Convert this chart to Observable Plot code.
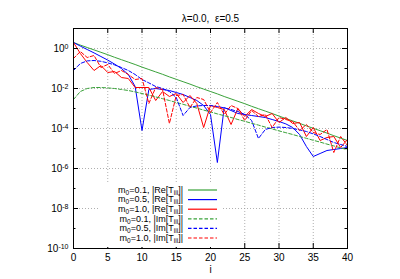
<!DOCTYPE html>
<html><head><meta charset="utf-8">
<script src="https://cdn.jsdelivr.net/npm/d3@7"></script>
<script src="https://cdn.jsdelivr.net/npm/@observablehq/plot@0.6"></script>
<style>
body{margin:0;background:#fff;}
svg{font-family:"Liberation Sans",Arial,Helvetica,sans-serif;}
</style>
</head><body><div id="chart"></div>
<script>
// ---- data (log10 of |T|) ----
const sites = [0,1,2,3,4,5,6,7,8,9,10,11,12,13,14,15,16,17,18,19,20,21,22,23,24,25,26,27,28,29,30,31,32,33,34,35,36,37,38,39,40];
const greenReLog = [0.30,0.17,0.05,-0.07,-0.19,-0.31,-0.44,-0.56,-0.68,-0.80,-0.93,-1.05,-1.17,-1.29,-1.42,-1.54,-1.66,-1.78,-1.91,-2.03,-2.15,-2.27,-2.40,-2.52,-2.64,-2.76,-2.89,-3.01,-3.13,-3.25,-3.38,-3.50,-3.62,-3.74,-3.87,-3.99,-4.11,-4.23,-4.36,-4.48,-4.60];
const blueReLog = [0.30,0.12,-0.05,-0.22,-0.40,-0.58,-0.78,-1.00,-1.30,-1.90,-4.10,-2.05,-2.00,-2.05,-2.10,-2.20,-2.30,-2.45,-2.60,-2.85,-3.30,-5.70,-2.95,-3.10,-3.25,-3.30,-3.35,-3.40,-3.45,-3.55,-3.65,-3.77,-3.95,-4.30,-4.90,-5.40,-5.25,-5.10,-5.05,-5.00,-4.95];
const redReLog = [0.30,-0.25,-0.70,-1.10,-0.85,-1.20,-1.15,-1.45,-1.50,-1.95,-1.95,-1.95,-2.60,-2.15,-2.40,-2.25,-2.70,-2.35,-2.75,-3.95,-2.85,-2.95,-3.05,-3.80,-3.00,-3.40,-3.05,-3.25,-3.40,-3.25,-3.70,-3.45,-3.75,-3.70,-4.40,-3.95,-4.60,-4.45,-4.40,-4.95,-4.55];
const greenImLog = [-2.55,-2.15,-2.00,-1.95,-1.95,-1.97,-2.00,-2.05,-2.10,-2.17,-2.25,-2.33,-2.42,-2.51,-2.60,-2.70,-2.79,-2.89,-2.98,-3.08,-3.17,-3.27,-3.36,-3.45,-3.55,-3.64,-3.74,-3.83,-3.93,-4.02,-4.12,-4.21,-4.30,-4.40,-4.49,-4.59,-4.68,-4.78,-4.87,-4.97,-5.06];
const blueImLog = [-1.10,-0.75,-0.62,-0.60,-0.64,-0.72,-0.82,-0.95,-1.10,-1.30,-1.55,-1.72,-1.90,-2.00,-2.15,-2.45,-3.35,-2.95,-2.87,-2.85,-2.85,-2.90,-2.97,-3.05,-3.15,-3.30,-3.60,-4.50,-4.05,-3.95,-3.93,-3.95,-4.00,-4.07,-4.15,-4.27,-4.40,-4.55,-4.70,-4.80,-4.90];
const redImLog = [-0.50,-0.15,-0.45,-0.35,-0.95,-0.80,-1.25,-1.10,-1.30,-1.55,-1.50,-2.75,-1.95,-2.05,-3.75,-2.35,-2.30,-2.95,-2.45,-2.55,-3.20,-2.70,-3.30,-2.85,-3.00,-3.60,-3.10,-3.40,-3.30,-3.95,-3.45,-3.55,-3.65,-4.10,-3.80,-4.20,-4.30,-4.05,-5.20,-4.40,-4.85];

const m0Labels = ["0.1","0.5","1.0","0.1","0.5","1.0"];
const partLabels = ["Re","Re","Re","Im","Im","Im"];
const xTicks = [0,5,10,15,20,25,30,35,40];
const xGrid = [5,10,15,20,25,30,35];
const yMajor = [1e0,1e-2,1e-4,1e-6,1e-8,1e-10];
const yMinor = [1e1,1e-1,1e-3,1e-5,1e-7,1e-9];
const yGrid = [1e0,1e-2,1e-4,1e-6,1e-8];
const titleText = "λ=0.0,  ε=0.5";
const xLabel = "i";

// ---- styles ----
const GREEN = "#3aa23a", BLUE = "#0000ff", RED = "#ff0000";
const DASH = "3.5,2";
const seriesDefs = [
  {logs: greenReLog, color: GREEN, dash: null},
  {logs: blueReLog,  color: BLUE,  dash: null},
  {logs: redReLog,   color: RED,   dash: null},
  {logs: greenImLog, color: GREEN, dash: DASH},
  {logs: blueImLog,  color: BLUE,  dash: DASH},
  {logs: redImLog,   color: RED,   dash: DASH}
];
const tables = seriesDefs.map((s, k) => sites.map((i, j) => ({i, v: Math.pow(10, s.logs[j]), k})));

const W = 400, H = 279;
const mL = 73, mR = 53, mT = 28, mB = 31;
const fW = W - mL - mR, fH = H - mT - mB;
const gridStyle = {stroke: "#9a9a9a", strokeOpacity: 1, strokeWidth: 0.8, strokeDasharray: "1,2"};

const marks = [
  Plot.gridX(xGrid, gridStyle),
  Plot.gridY(yGrid, gridStyle),
  ...seriesDefs.map((s, k) => Plot.line(tables[k], {x: "i", y: "v", stroke: s.color, strokeWidth: 1, strokeDasharray: s.dash})),
  Plot.frame({stroke: "#000", strokeWidth: 1}),
  // inward ticks
  Plot.tickX(xTicks, {x: d => d, insetTop: fH - 5, stroke: "#000"}),
  Plot.tickX(xTicks, {x: d => d, insetBottom: fH - 5, stroke: "#000"}),
  Plot.tickY(yMajor, {y: d => d, insetRight: fW - 5, stroke: "#000"}),
  Plot.tickY(yMajor, {y: d => d, insetLeft: fW - 5, stroke: "#000"}),
  Plot.tickY(yMinor, {y: d => d, insetRight: fW - 2.5, stroke: "#000"}),
  Plot.tickY(yMinor, {y: d => d, insetLeft: fW - 2.5, stroke: "#000"}),
  Plot.axisX({ticks: xTicks, tickSize: 0, tickPadding: 5, label: null, fontSize: 10, tickFormat: d => String(d)}),
  Plot.axisY({ticks: yMajor, tickSize: 0, tickPadding: 5, label: null, fontSize: 10, tickFormat: d => "E" + Math.round(Math.log10(d))}),
  Plot.text([titleText], {frameAnchor: "top", dy: -14, fontSize: 10, fill: "#000"}),
  Plot.text([xLabel], {frameAnchor: "bottom", dy: 24, fontSize: 10, fill: "#000"})
];

const svg = Plot.plot({
  width: W, height: H,
  marginLeft: mL, marginRight: mR, marginTop: mT, marginBottom: mB,
  style: {background: "#fff", color: "#000", fontFamily: "Liberation Sans, Arial, sans-serif"},
  x: {type: "linear", domain: [0, 40]},
  y: {type: "log", domain: [1e-10, 10]},
  marks
});

// superscript exponents on y tick labels
d3.select(svg).selectAll('g[aria-label="y-axis tick label"] text').each(function() {
  const t = d3.select(this);
  const e = t.text().replace("E", "");
  t.text("");
  t.append("tspan").text("10");
  t.append("tspan").attr("dy", "-0.45em").attr("font-size", "7").text(e);
});

// legend (opaque key box)
const lg = d3.select(svg).append("g").attr("font-size", 9).attr("fill", "#000");
lg.append("rect").attr("x", 100).attr("y", 184).attr("width", 122).attr("height", 63).attr("fill", "#fff");
seriesDefs.forEach((s, k) => {
  const y = 190 + k * 9.6;
  const t = lg.append("text").attr("x", 183).attr("y", y).attr("dy", "0.3em").attr("text-anchor", "end");
  t.append("tspan").text("m");
  t.append("tspan").attr("font-size", 6.5).attr("dy", "2").text("0");
  t.append("tspan").attr("dy", "-2").text("=" + m0Labels[k] + ", |" + partLabels[k] + "[T");
  t.append("tspan").attr("font-size", 6.5).attr("dy", "2").text("iii");
  t.append("tspan").attr("dy", "-2").text("]|");
  lg.append("line").attr("x1", 188).attr("x2", 217).attr("y1", y).attr("y2", y)
    .attr("stroke", s.color).attr("stroke-width", 1.2).attr("stroke-dasharray", s.dash);
});

document.getElementById("chart").appendChild(svg);
</script>
</body></html>
